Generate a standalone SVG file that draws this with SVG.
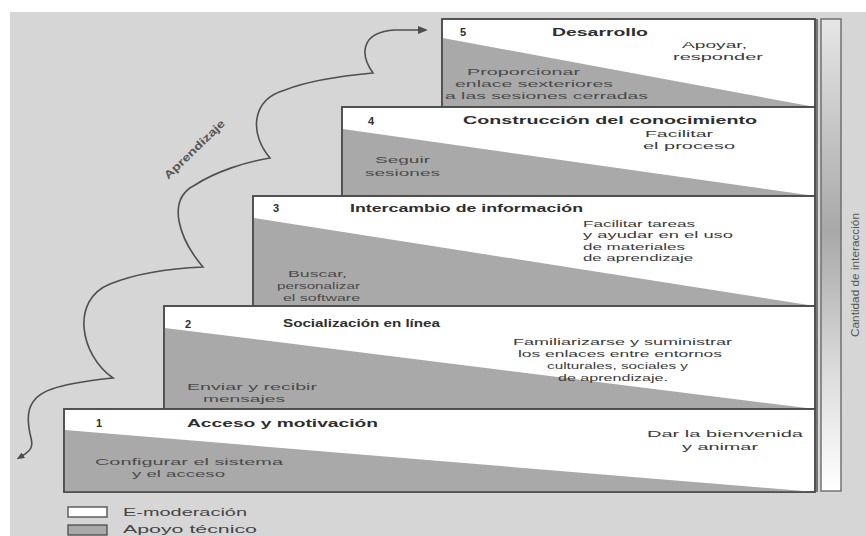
<svg xmlns="http://www.w3.org/2000/svg" width="866" height="536" viewBox="0 0 866 536">
<style>
.box{fill:#ffffff;stroke:#4d4d4d;stroke-width:1.6}
.tri{fill:#a9a9a9;stroke:none}
.ttl{font-family:"Liberation Sans","Open Sans",sans-serif;font-size:11px;font-weight:bold;fill:#2e2e2e}
.txt{font-family:"Liberation Sans","Open Sans",sans-serif;font-size:9.8px;fill:#3a3a3a}
.gtx{font-family:"Liberation Sans","Open Sans",sans-serif;font-size:9.8px;fill:#4a4a4a}
.side{font-family:"Liberation Sans","Open Sans",sans-serif;font-size:11px;fill:#555555}
.lbl{font-family:"Liberation Sans","Open Sans",sans-serif;font-size:11px;font-weight:bold;fill:#555555}
.leg{font-family:"Liberation Sans","Open Sans",sans-serif;font-size:10.5px;fill:#444444}
.curve{fill:none;stroke:#4f4f4f;stroke-width:1.6}
</style>
<defs>
<linearGradient id="barGrad" x1="0" y1="0" x2="0" y2="1">
<stop offset="0" stop-color="#e6e6e6"/>
<stop offset="0.45" stop-color="#a8a8a8"/>
<stop offset="0.75" stop-color="#dcdcdc"/>
<stop offset="1" stop-color="#ffffff"/>
</linearGradient>
<marker id="arrowEnd" viewBox="0 0 10 8" markerWidth="10" markerHeight="8" refX="2" refY="4" orient="auto" markerUnits="userSpaceOnUse">
<path d="M0,0 L10,4 L0,8 z" fill="#4f4f4f"/>
</marker>
<marker id="arrowTail" viewBox="0 0 10 8" markerWidth="8" markerHeight="6.4" refX="2" refY="4" orient="auto-start-reverse" markerUnits="userSpaceOnUse">
<path d="M0,0 L10,4 L0,8 z" fill="#4f4f4f"/>
</marker>
</defs>

<rect x="0" y="0" width="866" height="536" fill="#ffffff"/>
<rect x="10" y="12" width="856" height="524" fill="#d6d6d6"/>

<g id="connectors">
<path class="curve" marker-start="url(#arrowTail)" marker-end="url(#arrowEnd)" d="M 22,456 C 32,450 33,446 31,438 C 26,418 25,398 52,389 C 72,382 95,380 113,378 C 80,355 70,300 110,284 C 140,272 180,268 203,267 C 180,240 165,200 195,185 C 215,172 245,162 270,158 C 250,135 250,100 285,90 C 310,80 340,76 373,73 C 360,55 360,32 395,30 L 420,30"/>
<text class="lbl" transform="translate(197,152) rotate(-44)" text-anchor="middle" textLength="80" lengthAdjust="spacingAndGlyphs">Aprendizaje</text>
</g>

<g id="step5">
<rect class="box" x="442" y="19" width="373" height="88"/>
<polygon class="tri" points="442.8,38 815,107 442.8,107"/>
<rect x="442" y="19" width="373" height="88" fill="none" stroke="#4d4d4d" stroke-width="1.6"/>
<text class="ttl" x="460" y="36">5</text>
<text class="ttl" x="552" y="36" textLength="96" lengthAdjust="spacingAndGlyphs">Desarrollo</text>
<text class="txt" x="682" y="48" textLength="65" lengthAdjust="spacingAndGlyphs">Apoyar,</text>
<text class="txt" x="673" y="60" textLength="90" lengthAdjust="spacingAndGlyphs">responder</text>
<text class="gtx" x="467" y="75" textLength="113" lengthAdjust="spacingAndGlyphs">Proporcionar</text>
<text class="gtx" x="455" y="87" textLength="158" lengthAdjust="spacingAndGlyphs">enlace sexteriores</text>
<text class="gtx" x="445" y="99" textLength="203" lengthAdjust="spacingAndGlyphs">a las sesiones cerradas</text>
</g>

<g id="step4">
<rect class="box" x="342" y="107" width="473" height="89"/>
<polygon class="tri" points="342.8,129 815,196 342.8,196"/>
<rect x="342" y="107" width="473" height="89" fill="none" stroke="#4d4d4d" stroke-width="1.6"/>
<text class="ttl" x="368" y="125">4</text>
<text class="ttl" x="463" y="124" textLength="294" lengthAdjust="spacingAndGlyphs">Construcción del conocimiento</text>
<text class="txt" x="645" y="137" textLength="68" lengthAdjust="spacingAndGlyphs">Facilitar</text>
<text class="txt" x="643" y="149" textLength="92" lengthAdjust="spacingAndGlyphs">el proceso</text>
<text class="gtx" x="375" y="163" textLength="55" lengthAdjust="spacingAndGlyphs">Seguir</text>
<text class="gtx" x="365" y="176" textLength="75" lengthAdjust="spacingAndGlyphs">sesiones</text>
</g>

<g id="step3">
<rect class="box" x="253" y="196" width="562" height="110"/>
<polygon class="tri" points="253.8,218 815,306 253.8,306"/>
<rect x="253" y="196" width="562" height="110" fill="none" stroke="#4d4d4d" stroke-width="1.6"/>
<text class="ttl" x="273" y="212">3</text>
<text class="ttl" x="350" y="212" textLength="233" lengthAdjust="spacingAndGlyphs">Intercambio de información</text>
<text class="txt" x="583" y="226.5" textLength="112" lengthAdjust="spacingAndGlyphs">Facilitar tareas</text>
<text class="txt" x="583" y="238" textLength="150" lengthAdjust="spacingAndGlyphs">y ayudar en el uso</text>
<text class="txt" x="583" y="249.5" textLength="102" lengthAdjust="spacingAndGlyphs">de materiales</text>
<text class="txt" x="583" y="261" textLength="110" lengthAdjust="spacingAndGlyphs">de aprendizaje</text>
<text class="gtx" x="288" y="277" textLength="59" lengthAdjust="spacingAndGlyphs">Buscar,</text>
<text class="gtx" x="277" y="289" textLength="83" lengthAdjust="spacingAndGlyphs">personalizar</text>
<text class="gtx" x="283" y="301" textLength="77" lengthAdjust="spacingAndGlyphs">el software</text>
</g>

<g id="step2">
<rect class="box" x="164" y="306" width="651" height="103"/>
<polygon class="tri" points="164.8,328 815,409 164.8,409"/>
<rect x="164" y="306" width="651" height="103" fill="none" stroke="#4d4d4d" stroke-width="1.6"/>
<text class="ttl" x="185" y="328">2</text>
<text class="ttl" x="283" y="327" textLength="157" lengthAdjust="spacingAndGlyphs">Socialización en línea</text>
<text class="txt" x="513" y="345" textLength="219" lengthAdjust="spacingAndGlyphs">Familiarizarse y suministrar</text>
<text class="txt" x="518" y="357" textLength="204" lengthAdjust="spacingAndGlyphs">los enlaces entre entornos</text>
<text class="txt" x="547" y="369" textLength="141" lengthAdjust="spacingAndGlyphs">culturales, sociales y</text>
<text class="txt" x="558" y="381" textLength="110" lengthAdjust="spacingAndGlyphs">de aprendizaje.</text>
<text class="gtx" x="187" y="390" textLength="130" lengthAdjust="spacingAndGlyphs">Enviar y recibir</text>
<text class="gtx" x="203" y="402" textLength="82" lengthAdjust="spacingAndGlyphs">mensajes</text>
</g>

<g id="step1">
<rect class="box" x="64" y="409" width="751" height="83"/>
<polygon class="tri" points="64.8,430 815,492 64.8,492"/>
<rect x="64" y="409" width="751" height="83" fill="none" stroke="#4d4d4d" stroke-width="1.6"/>
<text class="ttl" x="96" y="427">1</text>
<text class="ttl" x="187" y="427" textLength="191" lengthAdjust="spacingAndGlyphs">Acceso y motivación</text>
<text class="txt" x="647" y="437" textLength="156" lengthAdjust="spacingAndGlyphs">Dar la bienvenida</text>
<text class="txt" x="682" y="450" textLength="76" lengthAdjust="spacingAndGlyphs">y animar</text>
<text class="gtx" x="95" y="465" textLength="188" lengthAdjust="spacingAndGlyphs">Configurar el sistema</text>
<text class="gtx" x="132" y="477" textLength="93" lengthAdjust="spacingAndGlyphs">y el acceso</text>
</g>

<g id="right-edge">
<line x1="817" y1="19" x2="817" y2="492" stroke="#4d4d4d" stroke-width="1.4"/>
</g>

<g id="interaction-bar">
<rect x="821" y="19" width="20" height="472" fill="url(#barGrad)" stroke="#6a6a6a" stroke-width="1.4"/>
<text class="side" transform="translate(859,275) rotate(-90)" text-anchor="middle" textLength="124" lengthAdjust="spacingAndGlyphs">Cantidad de interacción</text>
</g>

<g id="legend-emoderacion">
<rect x="68" y="507" width="39" height="10" fill="#ffffff" stroke="#555555" stroke-width="1.4"/>
<text class="leg" x="123" y="516" textLength="124" lengthAdjust="spacingAndGlyphs">E-moderación</text>
</g>
<g id="legend-apoyo">
<rect x="68" y="525" width="39" height="10" fill="#a9a9a9" stroke="#555555" stroke-width="1.4"/>
<text class="leg" x="123" y="533" textLength="134" lengthAdjust="spacingAndGlyphs">Apoyo técnico</text>
</g>
</svg>
